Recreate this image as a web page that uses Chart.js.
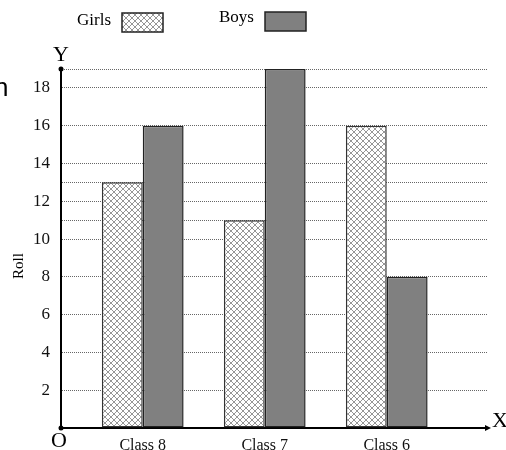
<!DOCTYPE html>
<html>
<head>
<meta charset="utf-8">
<script src="https://cdn.jsdelivr.net/npm/chart.js@4.4.1/dist/chart.umd.min.js"></script>
<style>
  body { margin: 0; background: #fff; }
  #wrap { width: 506px; height: 450px; position: relative; }
</style>
</head>
<body>
<div id="wrap"><canvas id="chart"></canvas></div>
<script>
const classes = ['Class 8', 'Class 7', 'Class 6'];
const girls = [13, 11, 16];
const boys = [16, 19, 8];
const gridValues = [0, 2, 4, 6, 8, 10, 11, 12, 13, 14, 16, 18, 19];
const labelValues = [2, 4, 6, 8, 10, 12, 14, 16, 18];

const serif = '"Liberation Serif", "DejaVu Serif", serif';

function hatch() {
    const c = document.createElement('canvas');
    c.width = 6; c.height = 6;
    const g = c.getContext('2d');
    g.fillStyle = '#fff';
    g.fillRect(0, 0, 6, 6);
    g.strokeStyle = '#8a8a8a';
    g.lineWidth = 0.9;
    g.beginPath();
    g.moveTo(0, 0); g.lineTo(6, 6);
    g.moveTo(0, 6); g.lineTo(6, 0);
    g.stroke();
    return g.createPattern(c, 'repeat');
}
const girlsFill = hatch();

const extras = {
    id: 'extras',
    afterDraw(chart) {
        const c = chart.ctx;
        const a = chart.chartArea;
        c.save();
        c.fillStyle = '#000';
        // axis ends
        c.beginPath(); c.arc(a.left, a.top, 2.5, 0, Math.PI * 2); c.fill();
        c.beginPath(); c.arc(a.left, a.bottom, 2.5, 0, Math.PI * 2); c.fill();
        c.beginPath();
        c.moveTo(a.right - 3, a.bottom - 3);
        c.lineTo(a.right + 3, a.bottom);
        c.lineTo(a.right - 3, a.bottom + 3);
        c.closePath(); c.fill();
        // axis letters
        c.font = '22px ' + serif;
        c.textAlign = 'center';
        c.textBaseline = 'middle';
        c.fillText('Y', a.left, 55);
        c.fillText('O', 59, 441);
        c.fillText('X', 500, 421);
        // y title
        c.font = '15px ' + serif;
        c.translate(19, 266);
        c.rotate(-Math.PI / 2);
        c.fillText('Roll', 0, 0);
        c.restore();
        // stray fragment at left edge
        c.save();
        c.font = '26px "Liberation Sans", sans-serif';
        c.fillStyle = '#000';
        c.textBaseline = 'alphabetic';
        c.fillText('n', -6, 96);
        // legend: text then swatch
        c.font = '17px ' + serif;
        c.textAlign = 'left';
        c.textBaseline = 'middle';
        const items = [
            { text: 'Girls', tx: 77, ty: 21, bx: 122, by: 13, fill: girlsFill },
            { text: 'Boys', tx: 219, ty: 18, bx: 265, by: 12, fill: '#808080' }
        ];
        items.forEach(it => {
            c.fillStyle = '#000';
            c.fillText(it.text, it.tx, it.ty);
            c.fillStyle = it.fill;
            c.fillRect(it.bx, it.by, 41, 19);
            c.strokeStyle = '#222';
            c.lineWidth = 1.5;
            c.strokeRect(it.bx, it.by, 41, 19);
        });
        c.restore();
    }
};

new Chart(document.getElementById('chart'), {
    type: 'bar',
    data: {
        datasets: [
            {
                label: 'Girls',
                data: girls.map((v, i) => ({ x: i + 1, y: v })),
                backgroundColor: girlsFill,
                borderColor: '#333',
                borderWidth: 1.5,
                borderSkipped: false
            },
            {
                label: 'Boys',
                data: boys.map((v, i) => ({ x: i + 1, y: v })),
                backgroundColor: '#808080',
                borderColor: '#222',
                borderWidth: 1.5,
                borderSkipped: false
            }
        ]
    },
    options: {
        responsive: true,
        maintainAspectRatio: false,
        animation: false,
        categoryPercentage: 0.67,
        barPercentage: 1,
        layout: { padding: { top: 69, right: 18, left: 0, bottom: 0 } },
        scales: {
            x: {
                type: 'linear',
                min: 0.33,
                max: 3.83,
                offset: false,
                afterFit: s => { s.height = 22; },
                afterBuildTicks: s => { s.ticks = classes.map((_, i) => ({ value: i + 1 })); },
                ticks: {
                    callback: v => classes[v - 1] || '',
                    autoSkip: false,
                    maxRotation: 0,
                    padding: 8,
                    color: '#111',
                    font: { family: serif, size: 16 }
                },
                grid: { display: false, drawTicks: false, offset: false },
                border: { color: '#000', width: 2 }
            },
            y: {
                min: 0,
                max: 19,
                z: 1,
                afterFit: s => { s.width = 61; },
                afterBuildTicks: s => { s.ticks = gridValues.map(v => ({ value: v })); },
                ticks: {
                    callback: v => labelValues.includes(v) ? String(v) : '',
                    autoSkip: false,
                    padding: 11,
                    color: '#111',
                    font: { family: serif, size: 17 }
                },
                grid: {
                    drawTicks: false,
                    color: ctx => ctx.tick && ctx.tick.value === 0 ? 'rgba(0,0,0,0)' : '#666',
                    lineWidth: 1
                },
                border: { color: '#000', width: 2, dash: [1, 1] }
            }
        },
        plugins: {
            legend: { display: false },
            tooltip: { enabled: false }
        }
    },
    plugins: [extras]
});
</script>
</body>
</html>
